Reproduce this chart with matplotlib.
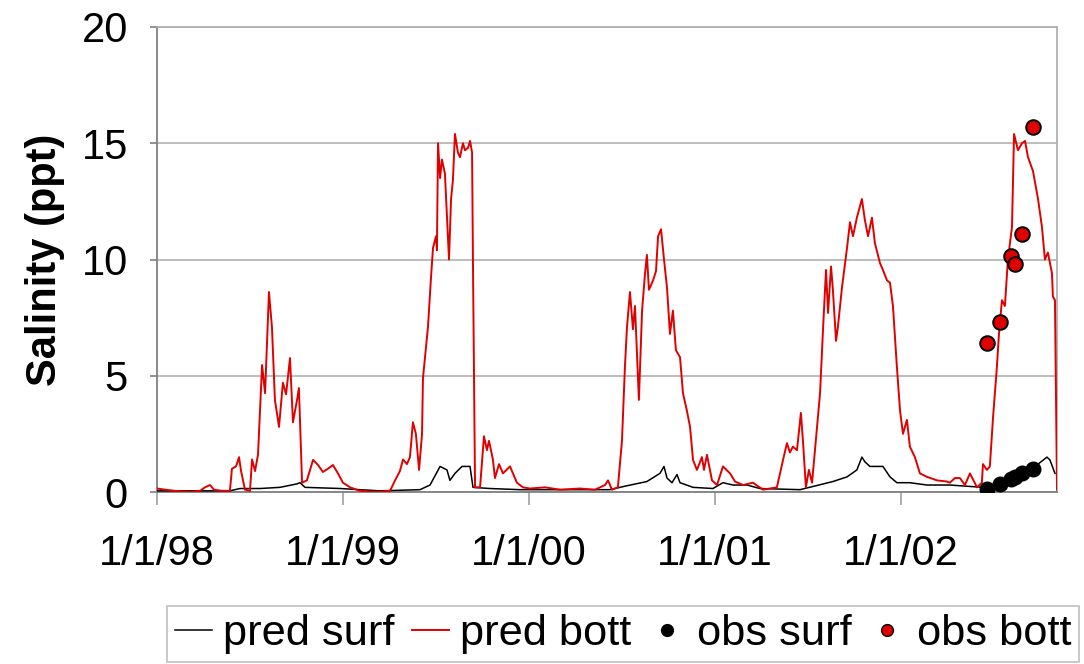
import matplotlib
matplotlib.use("Agg")
import matplotlib.pyplot as plt
from matplotlib.lines import Line2D

plt.rcParams['font.family'] = ['Liberation Sans', 'DejaVu Sans']

# Time in years since 1/1/98
bott_t = [0.000, 0.043, 0.097, 0.177, 0.231, 0.258, 0.285, 0.306, 0.349, 0.392,
          0.403, 0.425, 0.441, 0.452, 0.473, 0.500, 0.511, 0.527, 0.543, 0.565,
          0.581, 0.602, 0.618, 0.634, 0.656, 0.677, 0.694, 0.715, 0.731, 0.753,
          0.763, 0.780, 0.806, 0.839, 0.866, 0.892, 0.919, 0.946, 0.973, 1.000,
          1.038, 1.091, 1.172, 1.253, 1.280, 1.306, 1.323, 1.344, 1.360, 1.376,
          1.392, 1.409, 1.425, 1.430, 1.457, 1.473, 1.484, 1.500, 1.505, 1.511,
          1.522, 1.532, 1.548, 1.559, 1.570, 1.581, 1.591, 1.602, 1.618, 1.629,
          1.645, 1.656, 1.672, 1.683, 1.694, 1.699, 1.710, 1.737, 1.758, 1.774,
          1.785, 1.806, 1.817, 1.839, 1.860, 1.898, 1.935, 1.968, 2.005, 2.086,
          2.167, 2.274, 2.355, 2.409, 2.425, 2.446, 2.478, 2.500, 2.516, 2.527,
          2.543, 2.559, 2.570, 2.591, 2.608, 2.624, 2.634, 2.645, 2.667, 2.683,
          2.694, 2.710, 2.726, 2.742, 2.758, 2.774, 2.790, 2.812, 2.828, 2.849,
          2.866, 2.882, 2.903, 2.930, 2.941, 2.957, 2.984, 3.011, 3.043, 3.081,
          3.108, 3.151, 3.204, 3.258, 3.333, 3.366, 3.387, 3.403, 3.419, 3.441,
          3.462, 3.473, 3.489, 3.505, 3.522, 3.548, 3.565, 3.581, 3.597, 3.608,
          3.624, 3.634, 3.651, 3.661, 3.683, 3.710, 3.726, 3.742, 3.763, 3.790,
          3.806, 3.823, 3.844, 3.860, 3.887, 3.903, 3.925, 3.941, 3.957, 3.978,
          3.995, 4.011, 4.032, 4.048, 4.075, 4.102, 4.140, 4.194, 4.247, 4.263,
          4.290, 4.317, 4.344, 4.371, 4.409, 4.435, 4.441, 4.462, 4.478, 4.495,
          4.516, 4.527, 4.543, 4.559, 4.575, 4.597, 4.608, 4.629, 4.651, 4.667,
          4.683, 4.710, 4.737, 4.758, 4.774, 4.790, 4.812, 4.817, 4.828, 4.839]
bott_v = [0.15, 0.10, 0.05, 0.00, 0.05, 0.20, 0.30, 0.10, 0.05, 0.05,
          1.00, 1.10, 1.50, 0.90, 0.10, 0.05, 1.40, 0.90, 1.60, 5.46,
          4.25, 8.60, 7.10, 3.96, 2.80, 4.70, 4.20, 5.76, 3.00, 3.96,
          4.47, 0.40, 0.50, 1.38, 1.16, 0.86, 1.00, 1.16, 0.80, 0.40,
          0.20, 0.05, 0.00, 0.05, 0.50, 0.90, 1.40, 1.20, 1.50, 3.00,
          2.50, 0.95, 2.50, 4.90, 7.10, 9.20, 10.5, 11.0, 10.4, 15.0,
          13.5, 14.3, 13.7, 11.8, 10.0, 12.6, 13.4, 15.4, 14.6, 14.4,
          15.0, 14.7, 14.8, 15.1, 14.6, 9.70, 0.20, 0.20, 2.40, 1.80,
          2.20, 1.40, 0.60, 1.20, 0.80, 1.10, 0.40, 0.20, 0.15, 0.20,
          0.10, 0.15, 0.10, 0.30, 0.50, 0.10, 0.20, 2.20, 5.40, 7.10,
          8.60, 7.00, 8.00, 3.96, 7.80, 9.40, 10.2, 8.70, 9.10, 9.50,
          11.0, 11.3, 10.0, 8.80, 6.80, 7.80, 6.10, 5.80, 4.25, 3.50,
          2.80, 1.38, 0.95, 1.50, 0.95, 1.60, 0.50, 0.30, 1.10, 0.80,
          0.45, 0.30, 0.40, 0.10, 0.20, 1.38, 2.10, 1.70, 1.95, 1.80,
          3.40, 2.20, 0.20, 0.95, 0.40, 2.70, 4.25, 7.00, 9.55, 7.70,
          9.70, 8.70, 6.50, 7.10, 8.80, 10.5, 11.6, 11.0, 11.8, 12.6,
          11.7, 11.0, 11.8, 10.7, 9.85, 9.55, 9.10, 9.00, 8.00, 5.40,
          3.50, 2.50, 3.10, 1.95, 1.50, 0.80, 0.65, 0.50, 0.45, 0.40,
          0.60, 0.60, 0.30, 0.80, 0.20, 0.40, 1.20, 0.95, 1.10, 3.20,
          5.40, 6.80, 8.25, 8.00, 10.0, 11.4, 15.4, 14.7, 15.0, 15.1,
          14.4, 13.8, 12.6, 11.4, 10.0, 10.3, 9.40, 8.40, 8.25, 0.10]

surf_t = [0.000, 0.392, 0.446, 0.554, 0.661, 0.753, 0.769, 0.796, 0.984, 1.199,
          1.414, 1.468, 1.522, 1.559, 1.575, 1.602, 1.640, 1.683, 1.699, 1.790,
          1.952, 2.167, 2.435, 2.516, 2.634, 2.704, 2.726, 2.742, 2.769, 2.796,
          2.812, 2.882, 2.989, 3.043, 3.097, 3.172, 3.242, 3.457, 3.634, 3.710,
          3.763, 3.790, 3.806, 3.833, 3.871, 3.903, 3.941, 3.978, 4.048, 4.140,
          4.263, 4.441, 4.478, 4.570, 4.656, 4.731, 4.785, 4.801, 4.828]
surf_v = [0.05, 0.05, 0.15, 0.15, 0.20, 0.35, 0.40, 0.20, 0.15, 0.05,
          0.10, 0.30, 1.10, 0.95, 0.50, 0.80, 1.10, 1.10, 0.20, 0.15,
          0.10, 0.10, 0.10, 0.25, 0.45, 0.80, 1.10, 0.60, 0.40, 0.75,
          0.40, 0.20, 0.15, 0.40, 0.30, 0.30, 0.15, 0.10, 0.45, 0.65,
          0.95, 1.50, 1.30, 1.10, 1.10, 1.10, 0.65, 0.40, 0.40, 0.30,
          0.30, 0.20, 0.20, 0.65, 0.95, 1.16, 1.50, 1.38, 0.80]

obs_t = [4.462, 4.532, 4.591, 4.613, 4.651, 4.710]
obs_surf = [0.15, 0.35, 0.55, 0.65, 0.80, 1.00]
obs_bott = [6.4, 7.3, 10.15, 9.8, 11.1, 15.7]

tick_pos = [0, 1, 2, 3, 4]
tick_labels = ['1/1/98', '1/1/99', '1/1/00', '1/1/01', '1/1/02']

fig = plt.figure(figsize=(10.84, 6.64), dpi=100)
ax = fig.add_axes([157/1084, 1 - 492/664, (1057 - 157)/1084, (492 - 27)/664])

ax.plot(surf_t, surf_v, color='black', lw=1.1, label='pred surf', zorder=3)
ax.plot(bott_t, bott_v, color='#e00000', lw=1.4, label='pred bott', zorder=4)
ax.plot(obs_t, obs_surf, 'o', color='black', ms=10.5, mec='black', label='obs surf', zorder=5)
ax.plot(obs_t, obs_bott, 'o', color='#e00000', ms=10.5, mec='black', mew=1.4, label='obs bott', zorder=6)

ax.set_xlim(0, 4.839)
ax.set_ylim(0, 20)
ax.set_yticks([0, 5, 10, 15, 20])
ax.set_xticks(tick_pos)
ax.set_xticklabels(tick_labels)
ax.grid(axis='y', color='#b8b8b8', lw=1.3)
ax.set_axisbelow(True)

for side in ['top', 'right']:
    ax.spines[side].set_color('#b0b0b0')
    ax.spines[side].set_linewidth(1.3)
for side in ['left', 'bottom']:
    ax.spines[side].set_color('#808080')
    ax.spines[side].set_linewidth(1.3)

ax.tick_params(axis='y', labelsize=30, length=5, width=1.2, color='#808080', pad=16)
ax.tick_params(axis='x', labelsize=30, length=9, width=1.2, color='#a0a0a0', pad=21)
ax.set_ylabel('Salinity (ppt)', fontsize=30, fontweight='bold', labelpad=12)

handles = [Line2D([], [], color='black', lw=1.1),
           Line2D([], [], color='#e00000', lw=1.4),
           Line2D([], [], marker='o', ls='none', color='black', ms=8.5),
           Line2D([], [], marker='o', ls='none', color='#e00000', mec='black', mew=1.0, ms=8.5)]
leg = fig.legend(handles, ['pred surf', 'pred bott', 'obs surf', 'obs bott'],
                 loc='lower left', bbox_to_anchor=(167/1084, 2/664), ncol=4, fontsize=31.2,
                 frameon=True, fancybox=False, edgecolor='#b0b0b0',
                 handlelength=0.86, handletextpad=0.25, columnspacing=0.4,
                 borderpad=0.18, borderaxespad=0)
leg.get_frame().set_linewidth(1.2)

fig.savefig('out.png', dpi=100)
